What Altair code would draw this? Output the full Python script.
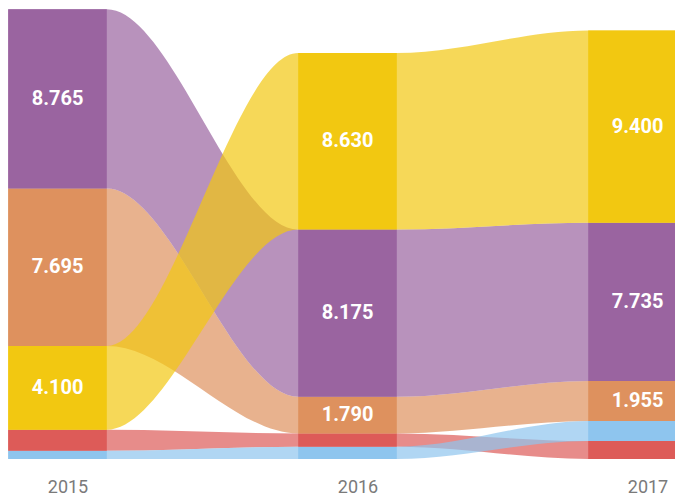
import altair as alt
import pandas as pd

years = [2015, 2016, 2017]
series = ["Lila", "Orange", "Gelb", "Rot", "Blau"]
lila = [8765, 8175, 7735]
orange = [7695, 1790, 1955]
gelb = [4100, 8630, 9400]
rot = [1030, 650, 880]
blau = [400, 600, 980]
colors = ["#9A64A0", "#DE915E", "#F2C811", "#DD5B58", "#8EC5EE"]
draw_order = ["Orange", "Lila", "Rot", "Blau", "Gelb"]

BAR_HALF = 0.17
values = dict(zip(series, [lila, orange, gelb, rot, blau]))

# stack per year: largest on top
bars = []
for i, yr in enumerate(years):
    order = sorted(series, key=lambda s: values[s][i])
    base = 0
    for s in order:
        v = values[s][i]
        bars.append(dict(series=s, year=yr, x0=yr - BAR_HALF, x1=yr + BAR_HALF,
                         y0=base, y1=base + v, ymid=base + v / 2, v=v,
                         label=f"{v:,}".replace(",", ".")))
        base += v
bars_df = pd.DataFrame(bars)

pts = []
for s in draw_order:
    for b in bars:
        if b["series"] != s:
            continue
        pts.append(dict(series=s, x=b["x0"], y0=b["y0"], y1=b["y1"]))
        pts.append(dict(series=s, x=b["x1"], y0=b["y0"], y1=b["y1"]))
pts_df = pd.DataFrame(pts)

xscale = alt.Scale(domain=[2014.8293, 2017.1293], nice=False, zero=False)
yscale = alt.Scale(domain=[0, 22050], nice=False, zero=True)
cscale = alt.Scale(domain=series, range=colors)
xaxis = alt.Axis(values=years, format="d", title=None, domain=False, ticks=False,
                 grid=False, labelFontSize=18, labelColor="#7a7a7a", labelFont="Roboto",
                 labelPadding=19, labelOffset=10)

ribbons = alt.Chart(pts_df).mark_area(interpolate="monotone", opacity=0.7, clip=True).encode(
    x=alt.X("x:Q", scale=xscale, axis=xaxis),
    y=alt.Y("y0:Q", scale=yscale, axis=None, stack=None),
    y2="y1:Q",
    color=alt.Color("series:N", scale=cscale, legend=None),
    detail="series:N",
)

rects = alt.Chart(bars_df).mark_rect(clip=True).encode(
    x=alt.X("x0:Q", scale=xscale, axis=xaxis),
    x2="x1:Q",
    y=alt.Y("y0:Q", scale=yscale, axis=None),
    y2="y1:Q",
    color=alt.Color("series:N", scale=cscale, legend=None),
)

labels = alt.Chart(bars_df).transform_filter("datum.v > 1500").mark_text(
    font="Roboto", fontSize=20, fontWeight="bold", color="white", baseline="middle", align="center"
).encode(
    x=alt.X("year:Q", scale=xscale, axis=xaxis),
    y=alt.Y("ymid:Q", scale=yscale, axis=None),
    text="label:N",
)

chart = alt.layer(ribbons, rects, labels).properties(
    width=667, height=451,
    padding={"left": 0, "top": 0, "right": 0, "bottom": 40},
    autosize=alt.AutoSizeParams(type="none"),
).configure_view(stroke=None)

chart.save("out.html", embed_options={"renderer": "svg", "actions": False})
